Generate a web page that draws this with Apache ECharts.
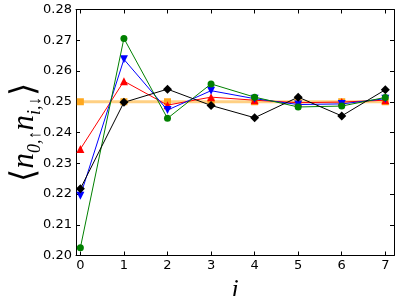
<!DOCTYPE html>
<html><head><meta charset="utf-8">
<script src="https://cdn.jsdelivr.net/npm/echarts@6/dist/echarts.min.js"></script>
<style>html,body{margin:0;padding:0;background:#fff}#c{width:399px;height:296px}</style>
</head><body><div id="c"></div>
<script>
var sites = [0, 1, 2, 3, 4, 5, 6, 7];
var xTicks = [0, 1, 2, 3, 4, 5, 6, 7];
var yTicks = [0.20, 0.21, 0.22, 0.23, 0.24, 0.25, 0.26, 0.27, 0.28];
var orangeVals = [0.25, 0.25, 0.25, 0.25, 0.25, 0.25, 0.25, 0.25];
var redVals = [0.2346, 0.2567, 0.2489, 0.2515, 0.2505, 0.2497, 0.2499, 0.2505];
var blueVals = [0.2194, 0.2638, 0.2473, 0.2536, 0.2510, 0.2491, 0.2493, 0.2510];
var greenVals = [0.2025, 0.2706, 0.2446, 0.2558, 0.2515, 0.2483, 0.2486, 0.2514];
var blackVals = [0.2217, 0.2498, 0.2541, 0.2488, 0.2448, 0.2515, 0.2454, 0.2539];

function pairs(v){ return sites.map(function(x,i){ return [x, v[i]]; }); }
var chart = echarts.init(document.getElementById('c'), null, {renderer:'canvas'});
var tickFont = {fontFamily:'DejaVu Sans', fontSize:13, color:'#000'};
function mkSeries(name, vals, color, symbol, size, lw, rot, lineColor, z){
  return {name:name, type:'line', data:pairs(vals), symbol:symbol, symbolSize:size,
    symbolRotate: rot||0, showSymbol:true, animation:false, z:z,
    lineStyle:{color:lineColor||color, width:lw},
    itemStyle:{color:color, borderWidth:0}};
}
chart.setOption({
  animation:false,
  grid:{left:76, right:5, top:9.5, bottom:40.5, show:false, containLabel:false, outerBoundsMode:'none'},
  xAxis:[{
    type:'value', min:-0.1, max:7.2, position:'bottom',
    axisLine:{show:true, onZero:false, lineStyle:{color:'#000', width:1}},
    axisTick:{show:true, inside:true, length:4, customValues:xTicks, lineStyle:{color:'#000'}},
    axisLabel:Object.assign({customValues:xTicks, margin:4}, tickFont),
    splitLine:{show:false},
    name:'i', nameLocation:'middle', nameGap:17,
    nameTextStyle:{fontFamily:'Liberation Serif', fontStyle:'italic', fontWeight:'normal', fontSize:26, color:'#000'}
  },{
    type:'value', min:-0.1, max:7.2, position:'top',
    axisLine:{show:true, onZero:false, lineStyle:{color:'#000', width:1}},
    axisTick:{show:true, inside:true, length:4, customValues:xTicks, lineStyle:{color:'#000'}},
    axisLabel:{show:false}, splitLine:{show:false}
  }],
  yAxis:[{
    type:'value', min:0.20, max:0.28, interval:0.01, position:'left',
    axisLine:{show:true, onZero:false, lineStyle:{color:'#000', width:1}},
    axisTick:{show:true, inside:true, length:4, lineStyle:{color:'#000'}},
    axisLabel:Object.assign({margin:4, formatter:function(v){return v.toFixed(2);}}, tickFont),
    splitLine:{show:false},
    name:'{b|⟨}{n|n}{s|0,↑}{n|n}{s|i,↓}{b|⟩}', nameLocation:'middle', nameGap:32, nameRotate:90,
    nameMoveOverlap:false,
    nameTextStyle:{color:'#000', rich:{
      b:{fontFamily:'DejaVu Sans', fontSize:34, fontWeight:'lighter', color:'#000', lineHeight:38, verticalAlign:'middle'},
      n:{fontFamily:'Liberation Serif', fontStyle:'italic', fontSize:31, color:'#000', lineHeight:32, verticalAlign:'middle'},
      s:{fontFamily:'Liberation Serif', fontStyle:'italic', fontSize:18, color:'#000', lineHeight:18, verticalAlign:'bottom'}
    }}
  },{
    type:'value', min:0.20, max:0.28, interval:0.01, position:'right',
    axisLine:{show:true, onZero:false, lineStyle:{color:'#000', width:1}},
    axisTick:{show:true, inside:true, length:4, lineStyle:{color:'#000'}},
    axisLabel:{show:false}, splitLine:{show:false}
  }],
  series:[
    mkSeries('orange', orangeVals, '#ffa81e', 'rect', 7, 3, 0, 'rgba(255,170,30,0.55)', 1),
    mkSeries('red', redVals, '#ff0000', 'triangle', 8, 1, 0, null, 2),
    mkSeries('blue', blueVals, '#0000ff', 'triangle', 8, 1, 180, null, 3),
    mkSeries('green', greenVals, '#008000', 'circle', 7, 1, 0, null, 4),
    mkSeries('black', blackVals, '#000000', 'diamond', 9, 1, 0, null, 5)
  ]
});
</script></body></html>
